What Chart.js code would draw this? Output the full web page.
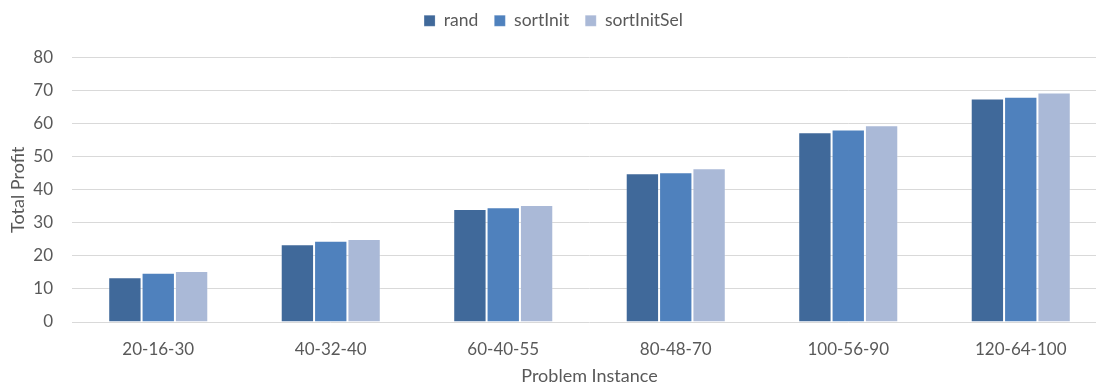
<!DOCTYPE html>
<html>
<head>
<meta charset="utf-8">
<script src="https://cdn.jsdelivr.net/npm/chart.js@4/dist/chart.umd.min.js"></script>
<style>
  html, body { margin: 0; padding: 0; background: #ffffff; overflow: hidden; }
  #wrap { width: 1115px; height: 385px; }
</style>
</head>
<body>
<div id="wrap"><canvas id="chart" width="1115" height="385"></canvas></div>
<script>
// Problem instances (x categories)
const categories = ['20-16-30', '40-32-40', '60-40-55', '80-48-70', '100-56-90', '120-64-100'];

// Total profit per heuristic
const rand        = [13.5, 23.5, 34.2, 45.0, 57.4, 67.6];
const sortInit    = [14.9, 24.6, 34.7, 45.3, 58.2, 68.1];
const sortInitSel = [15.4, 25.1, 35.4, 46.5, 59.5, 69.4];

// Value axis ticks
const yTicks = [0, 10, 20, 30, 40, 50, 60, 70, 80];

const textColor = '#595959';
const fontFamily = 'Lato, "Open Sans", sans-serif';
const edge = 'rgba(255,255,255,0.18)';

new Chart(document.getElementById('chart'), {
  type: 'bar',
  data: {
    labels: categories,
    datasets: [
      { label: 'rand',        data: rand,        backgroundColor: '#40699A', borderColor: edge, borderWidth: 1 },
      { label: 'sortInit',    data: sortInit,    backgroundColor: '#4F81BD', borderColor: edge, borderWidth: 1 },
      { label: 'sortInitSel', data: sortInitSel, backgroundColor: '#AAB9D7', borderColor: edge, borderWidth: 1 }
    ]
  },
  options: {
    responsive: false,
    animation: false,
    devicePixelRatio: 1,
    layout: { padding: { top: -4, right: 8, bottom: 0, left: 0 } },
    datasets: { bar: { categoryPercentage: 0.58, barPercentage: 1.0 } },
    plugins: {
      tooltip: { enabled: false },
      legend: {
        position: 'top',
        labels: {
          boxWidth: 11,
          boxHeight: 11,
          padding: 16,
          color: textColor,
          font: { family: fontFamily, size: 17.5 }
        }
      },
      // empty spacer between the legend and the plot
      subtitle: {
        display: true,
        text: '',
        weight: 500,
        font: { size: 10 },
        padding: { top: 0, bottom: 6 }
      }
    },
    scales: {
      x: {
        grid: { display: false },
        border: { display: false },
        ticks: { color: textColor, font: { family: fontFamily, size: 17 }, padding: 9, maxRotation: 0 },
        title: {
          display: true,
          text: 'Problem Instance',
          color: textColor,
          font: { family: fontFamily, size: 18 },
          padding: { top: 0, bottom: -2 }
        },
        afterFit: (scale) => { scale.height = 63; }
      },
      y: {
        min: 0,
        max: 80,
        afterBuildTicks: (scale) => { scale.ticks = yTicks.map(v => ({ value: v })); },
        grid: { color: '#d9d9d9', lineWidth: 1, drawTicks: false },
        border: { display: false },
        ticks: { color: textColor, font: { family: fontFamily, size: 17 }, padding: 19 },
        title: {
          display: true,
          text: 'Total Profit',
          color: textColor,
          font: { family: fontFamily, size: 18 },
          padding: { top: 7, bottom: 0 }
        },
        afterFit: (scale) => { scale.width = 72; }
      }
    }
  }
});
</script>
</body>
</html>
